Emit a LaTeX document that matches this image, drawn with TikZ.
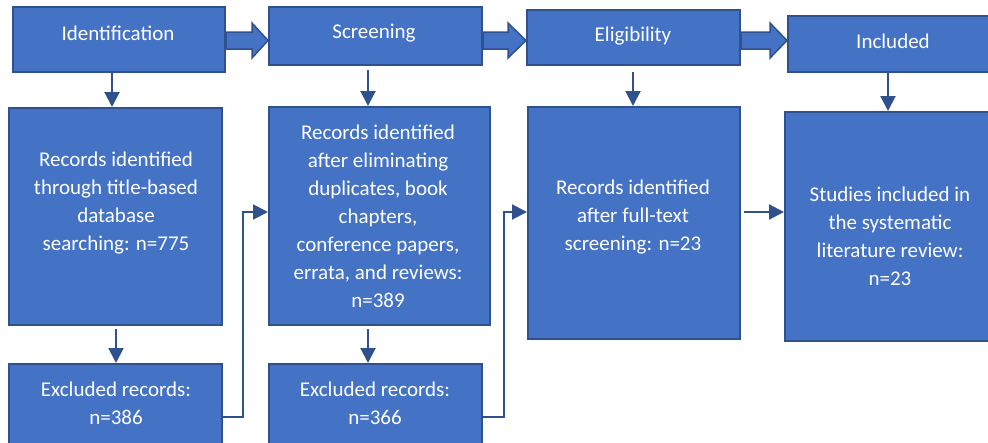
\documentclass[tikz,border=0pt]{standalone}
\usepackage{fontspec}
\setmainfont{Carlito}
\usetikzlibrary{arrows.meta}
\definecolor{boxfill}{HTML}{4472C4}
\definecolor{boxline}{HTML}{2F528F}
\tikzset{
  box/.style={draw=boxline, fill=boxfill, line width=2pt, inner sep=0pt, anchor=north west},
  txt/.style={text=white, align=center, font=\fontsize{21}{28}\selectfont, inner sep=0pt},
  arr/.style={draw=boxline, line width=2pt, -{Triangle[width=15pt,length=15pt]}},
  blockarr/.style={draw=boxline, fill=boxfill, line width=1.5pt, line join=miter}
}
\begin{document}
\begin{tikzpicture}[x=1pt,y=-1pt]
\useasboundingbox (0,0) rectangle (988,442);
\clip (0,0) rectangle (988,442);
% header boxes
\node[box, minimum width=212pt, minimum height=65pt] (id) at (12,6) {};
\node[box, minimum width=213pt, minimum height=58pt] (scr) at (268,6) {};
\node[box, minimum width=213pt, minimum height=55pt] (eli) at (526,9) {};
\node[box, minimum width=211pt, minimum height=56pt] (inc) at (787,15) {};
\node[txt] (idt) at (118,33) {Identification};
\node[txt] (scrt) at (374,33) {Screening};
\node[txt] (elit) at (633,36) {Eligibility};
\node[txt] (inct) at (893,41) {Included};
% record boxes
\node[box, minimum width=213pt, minimum height=217pt] (r1) at (8,107) {};
\node[box, minimum width=221pt, minimum height=218pt] (r2) at (268,106) {};
\node[box, minimum width=212pt, minimum height=232pt] (r3) at (527,106) {};
\node[box, minimum width=214pt, minimum height=229pt] (r4) at (784,111) {};
\node[txt] (r1t) at (116,203) {Records identified\\through title-based\\database\\searching: n=775};
\node[txt] (r2t) at (378,216) {Records identified\\after eliminating\\duplicates, book\\chapters,\\conference papers,\\errata, and reviews:\\n=389};
\node[txt] (r3t) at (633,217) {Records identified\\after full-text\\screening: n=23};
\node[txt] (r4t) at (890,236) {Studies included in\\the systematic\\literature review:\\n=23};
% excluded boxes
\node[box, minimum width=213pt, minimum height=90pt] (ex1) at (8,363) {};
\node[box, minimum width=213pt, minimum height=90pt] (ex2) at (268,363) {};
\node[txt] (ex1t) at (116,403) {Excluded records:\\n=386};
\node[txt] (ex2t) at (375,403) {Excluded records:\\n=366};
% block arrows
\draw[blockarr] (id.east |- 0,32) -- (252,32) -- (252,23) -- (scr.west |- 0,40.5) -- (252,58) -- (252,49) -- (id.east |- 0,49) -- cycle;
\draw[blockarr] (scr.east |- 0,32) -- (508,32) -- (508,23) -- (eli.west |- 0,40.5) -- (508,58) -- (508,49) -- (scr.east |- 0,49) -- cycle;
\draw[blockarr] (eli.east |- 0,32) -- (770,32) -- (770,23) -- (inc.west |- 0,40.5) -- (770,58) -- (770,49) -- (eli.east |- 0,49) -- cycle;
% down arrows
\draw[arr] (id.south -| 112,0) -- (r1.north -| 112,0);
\draw[arr] ([yshift=-4pt]scr.south -| 368,0) -- (r2.north -| 368,0);
\draw[arr] ([yshift=-6pt]eli.south -| 633,0) -- (r3.north -| 633,0);
\draw[arr] (inc.south -| 888,0) -- (r4.north -| 888,0);
\draw[arr] ([yshift=-3pt]r1.south -| 116,0) -- (ex1.north -| 116,0);
\draw[arr] ([yshift=-3pt]r2.south -| 368,0) -- (ex2.north -| 368,0);
% elbow connectors
\draw[arr] (ex1.east |- 0,417) -- (243,417) |- (r2.west |- 0,212);
\draw[arr] (ex2.east |- 0,417) -- (504,417) |- (r3.west |- 0,212);
\draw[arr] ([xshift=3pt]r3.east |- 0,212) -- (r4.west |- 0,212);
\end{tikzpicture}
\end{document}
